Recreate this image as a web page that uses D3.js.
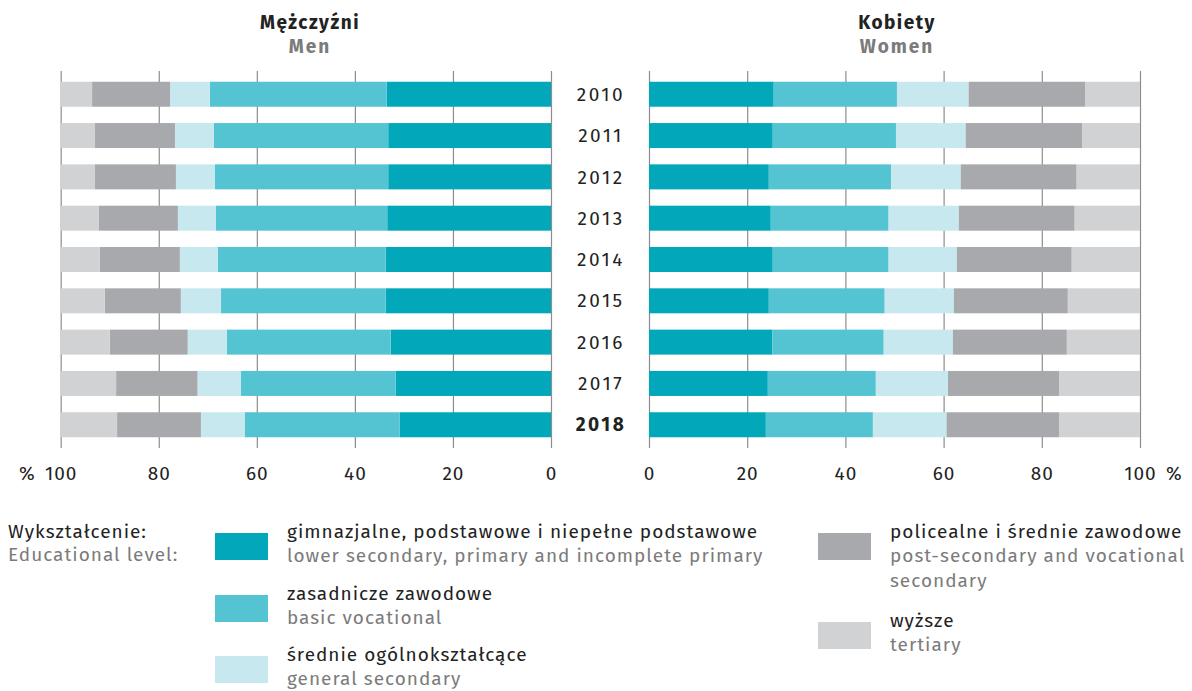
<!DOCTYPE html>
<html>
<head>
<meta charset="utf-8">
<script src="https://cdn.jsdelivr.net/npm/d3@7"></script>
<style>
  body { margin: 0; background: #fff; }
  svg text { font-family: "Fira Sans", "Open Sans", sans-serif; }
</style>
</head>
<body>
<svg id="chart" width="1192" height="691"></svg>
<script>
// =====
// DATA
// =====

const years = ["2010", "2011", "2012", "2013", "2014", "2015", "2016", "2017", "2018"];
const categoryKeys = ["lower", "basic", "general", "postsec", "tertiary"];
const categoriesPl = ["gimnazjalne, podstawowe i niepełne podstawowe", "zasadnicze zawodowe", "średnie ogólnokształcące", "policealne i średnie zawodowe", "wyższe"];
const categoriesEn = ["lower secondary, primary and incomplete primary", "basic vocational", "general secondary", "post-secondary and vocational\nsecondary", "tertiary"];
const colors = ["#02a8ba", "#54c4d2", "#c8e8ef", "#a8a9ad", "#d1d2d4"];
const ticks = [0, 20, 40, 60, 80, 100];

// men, % by year
const menLower    = [33.5, 33.2, 33.2, 33.4, 33.7, 33.7, 32.7, 31.7, 30.9];
const menBasic    = [36.1, 35.6, 35.4, 35.0, 34.3, 33.6, 33.4, 31.6, 31.6];
const menGeneral  = [8.1, 7.9, 7.9, 7.7, 7.7, 8.2, 8.0, 8.8, 8.9];
const menPostsec  = [15.9, 16.3, 16.5, 16.1, 16.3, 15.5, 15.9, 16.6, 17.1];
const menTertiary = [6.4, 7.0, 7.0, 7.8, 8.0, 9.0, 10.0, 11.3, 11.5];

// women, % by year
const womenLower    = [25.4, 25.2, 24.4, 24.8, 25.2, 24.4, 25.1, 24.2, 23.8];
const womenBasic    = [25.1, 25.1, 24.9, 24.0, 23.6, 23.6, 22.7, 22.0, 21.8];
const womenGeneral  = [14.6, 14.2, 14.2, 14.3, 13.9, 14.1, 14.1, 14.7, 15.0];
const womenPostsec  = [23.7, 23.7, 23.6, 23.6, 23.4, 23.2, 23.2, 22.7, 22.9];
const womenTertiary = [11.2, 11.8, 12.9, 13.3, 13.9, 14.7, 14.9, 16.4, 16.5];

function table(series) {
  return years.map((yr, i) => {
    const row = { year: yr };
    categoryKeys.forEach((k, j) => row[k] = series[j][i]);
    return row;
  });
}

const menTable = table([menLower, menBasic, menGeneral, menPostsec, menTertiary]);
const womenTable = table([womenLower, womenBasic, womenGeneral, womenPostsec, womenTertiary]);

// ======
// LAYOUT
// ======

const svg = d3.select("#chart");
const plotTop = 71, plotBottom = 448;

const y = d3.scaleBand().domain(years).range([plotTop, plotBottom])
  .paddingInner(0.395).paddingOuter(0.26);

const xMen = d3.scaleLinear().domain([100, 0]).range([60.7, 551]);
const xWomen = d3.scaleLinear().domain([0, 100]).range([649, 1140]);

const color = d3.scaleOrdinal().domain(categoryKeys).range(colors);
const stack = d3.stack().keys(categoryKeys);

function panel(x, data, pct) {
  const g = svg.append("g");

  // grid lines + tick labels
  const axis = g.append("g")
    .attr("transform", `translate(0,${plotBottom})`)
    .call(d3.axisBottom(x).tickValues(ticks).tickSize(-(plotBottom - plotTop)).tickFormat(d3.format("d")));
  axis.select(".domain").remove();
  axis.selectAll(".tick line").attr("stroke", "#8d8d8d").attr("stroke-width", 1.2);
  axis.selectAll(".tick text")
    .attr("y", 32).attr("dy", null)
    .attr("fill", "#222")
    .style("font-size", "19px")
    .style("letter-spacing", "1px");

  g.append("text")
    .attr("x", x(100) + pct * 26)
    .attr("y", plotBottom + 32)
    .attr("text-anchor", pct < 0 ? "end" : "start")
    .attr("fill", "#222")
    .style("font-size", "19px")
    .text("%");

  // bars
  g.selectAll(".layer")
    .data(stack(data))
    .join("g")
    .attr("class", "layer")
    .attr("fill", d => color(d.key))
    .selectAll("rect")
    .data(d => d)
    .join("rect")
    .attr("x", d => Math.min(x(d[0]), x(d[1])))
    .attr("width", d => Math.abs(x(d[1]) - x(d[0])))
    .attr("y", d => y(d.data.year))
    .attr("height", y.bandwidth());
}

panel(xMen, menTable, -1);
panel(xWomen, womenTable, 1);

// year labels
svg.append("g")
  .selectAll("text")
  .data(years)
  .join("text")
  .attr("x", 601)
  .attr("y", d => y(d) + y.bandwidth() / 2)
  .attr("dy", "0.35em")
  .attr("text-anchor", "middle")
  .attr("fill", "#222")
  .style("font-size", "19px")
  .style("letter-spacing", "2.5px")
  .style("font-weight", (d, i) => i === years.length - 1 ? "bold" : "normal")
  .text(d => d);

// panel titles
const titles = [
  { x: 310, pl: "Mężczyźni", en: "Men" },
  { x: 897, pl: "Kobiety", en: "Women" }
];
titles.forEach(t => {
  svg.append("text").attr("x", t.x).attr("y", 29).attr("text-anchor", "middle")
    .attr("fill", "#222").style("font-size", "19px").style("font-weight", "bold")
    .style("letter-spacing", "1.5px").text(t.pl);
  svg.append("text").attr("x", t.x).attr("y", 53).attr("text-anchor", "middle")
    .attr("fill", "#7b7b7b").style("font-size", "19px").style("font-weight", "bold")
    .style("letter-spacing", "2px").text(t.en);
});

// ======
// LEGEND
// ======

svg.append("text").attr("x", 8).attr("y", 538).attr("fill", "#222")
  .style("font-size", "19px").style("letter-spacing", "1px").text("Wykształcenie:");
svg.append("text").attr("x", 8).attr("y", 561).attr("fill", "#7b7b7b")
  .style("font-size", "19px").style("letter-spacing", "1px").text("Educational level:");

const legendPos = [[215, 533], [215, 595], [215, 656], [818, 533], [818, 622]];

const legend = svg.append("g").selectAll("g")
  .data(categoryKeys)
  .join("g")
  .attr("transform", (d, i) => `translate(${legendPos[i][0]},${legendPos[i][1]})`);

legend.append("rect")
  .attr("width", 53).attr("height", 27)
  .attr("fill", d => color(d));

legend.append("text")
  .attr("x", 72).attr("y", 5)
  .attr("fill", "#222")
  .style("font-size", "19px")
  .style("letter-spacing", "1px")
  .text((d, i) => categoriesPl[i]);

legend.append("text")
  .attr("x", 72).attr("y", 29)
  .attr("fill", "#7b7b7b")
  .style("font-size", "19px")
  .style("letter-spacing", "1px")
  .selectAll("tspan")
  .data((d, i) => categoriesEn[i].split("\n"))
  .join("tspan")
  .attr("x", 72)
  .attr("dy", (d, i) => i ? 25 : 0)
  .text(d => d);
</script>
</body>
</html>
